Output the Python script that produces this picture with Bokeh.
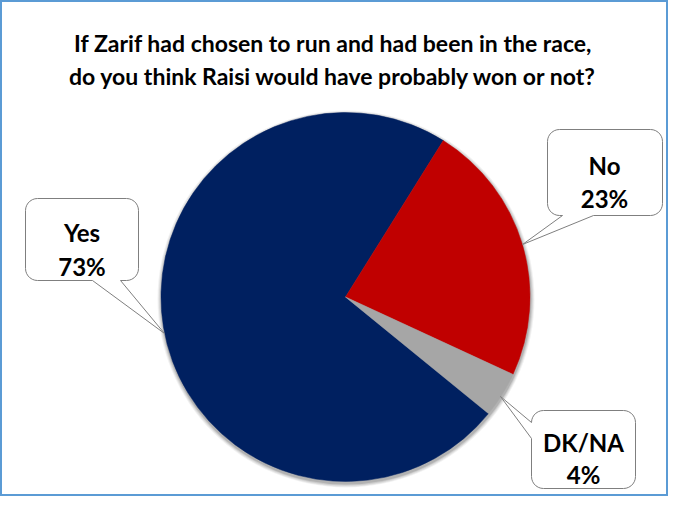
import numpy as np
from bokeh.plotting import figure
from bokeh.models import Range1d, ColumnDataSource
from bokeh.embed import file_html
from bokeh.resources import INLINE
from bokeh.core.properties import value

# ---- data ----
title_lines = ["If Zarif  had chosen to run and had been in the race,",
               "do you think Raisi  would have probably won or not?"]
labels = ["Yes", "No", "DK/NA"]
values = [73, 23, 4]
pct_labels = ["73%", "23%", "4%"]
colors = ["#002060", "#C00000", "#A6A6A6"]

# ---- layout (screen-pixel coordinates of the reference) ----
W, H = 668, 496
FONT = "Lato"
p = figure(width=W, height=H, x_range=Range1d(0, W), y_range=Range1d(-H, 0),
           output_backend="svg", toolbar_location=None,
           x_axis_location=None, y_axis_location=None,
           min_border=0, min_border_left=0, min_border_right=0,
           min_border_top=0, min_border_bottom=0)
p.grid.visible = False
p.outline_line_color = "#5B9BD5"
p.outline_line_width = 3
p.background_fill_color = "white"
p.border_fill_color = "white"

# title
p.text(x=[335.5, 335.5], y=[-42.7, -75.0], text=title_lines,
       text_font=value(FONT), text_font_style="bold", text_font_size="23px",
       text_align="center", text_baseline="alphabetic", text_color="black")

# pie
cx, cy, r = 345.0, -296.5, 184.5
start_cw = 129.2  # degrees clockwise from 12 o'clock where first slice starts
vals = np.array(values, dtype=float)
spans = vals / vals.sum() * 360.0
cw0 = start_cw + np.concatenate([[0], np.cumsum(spans)[:-1]])
cw1 = cw0 + spans
src = ColumnDataSource(dict(
    start=np.radians(90 - cw0), end=np.radians(90 - cw1),
    color=colors, label=labels))

# soft shadow
for k, a in [(4, 0.05), (3, 0.07), (2, 0.09), (1, 0.12)]:
    p.circle(x=[cx + 0.5], y=[cy - 2], radius=r + k, fill_color="#000000",
             fill_alpha=a, line_color=None)

p.wedge(x=cx, y=cy, radius=r, start_angle="start", end_angle="end",
        direction="clock", fill_color="color", line_color="color",
        line_width=0.5, source=src)


def callout(x0, y0, x1, y1, rr, edge, b0, b1, tip):
    """Rounded box with a pointer, in screen coords (y down)."""
    pts = []

    def arc(ccx, ccy, a0, a1):
        for a in np.linspace(np.radians(a0), np.radians(a1), 8):
            pts.append((ccx + rr * np.cos(a), ccy + rr * np.sin(a)))

    pts.append((x0 + rr, y0))
    if edge == "top":
        pts += [(b0, y0), tip, (b1, y0)]
    pts.append((x1 - rr, y0))
    arc(x1 - rr, y0 + rr, -90, 0)
    if edge == "right":
        pts += [(x1, b0), tip, (x1, b1)]
    arc(x1 - rr, y1 - rr, 0, 90)
    if edge == "bottom":
        pts += [(b0, y1), tip, (b1, y1)]
    arc(x0 + rr, y1 - rr, 90, 180)
    if edge == "left":
        pts += [(x0, b0), tip, (x0, b1)]
    arc(x0 + rr, y0 + rr, 180, 270)
    xs = [q[0] for q in pts]
    ys = [-q[1] for q in pts]
    return xs, ys


boxes = {
    "Yes": dict(box=(25, 198, 138, 280), edge="bottom", b=(120, 92), tip=(164, 333),
                tx=81.5, ty=(231.7, 266.0)),
    "No": dict(box=(547, 129, 662, 215), edge="bottom", b=(593, 562), tip=(522, 244),
               tx=604.0, ty=(165.0, 197.5)),
    "DK/NA": dict(box=(531, 410, 635, 488), edge="left", b=(438, 422), tip=(500, 396),
                  tx=583.0, ty=(441.7, 474.0)),
}

for lab, pct in zip(labels, pct_labels):
    b = boxes[lab]
    xs, ys = callout(*b["box"], 12, b["edge"], b["b"][0], b["b"][1], b["tip"])
    p.patch(xs, ys, fill_color="white", line_color="#7F7F7F", line_width=1)
    p.text(x=[b["tx"], b["tx"]], y=[-b["ty"][0], -b["ty"][1]], text=[lab, pct],
           text_font=value(FONT), text_font_style="bold", text_font_size="24px",
           text_align="center", text_baseline="alphabetic", text_color="black")

open("out.html", "w").write(file_html(p, INLINE))
